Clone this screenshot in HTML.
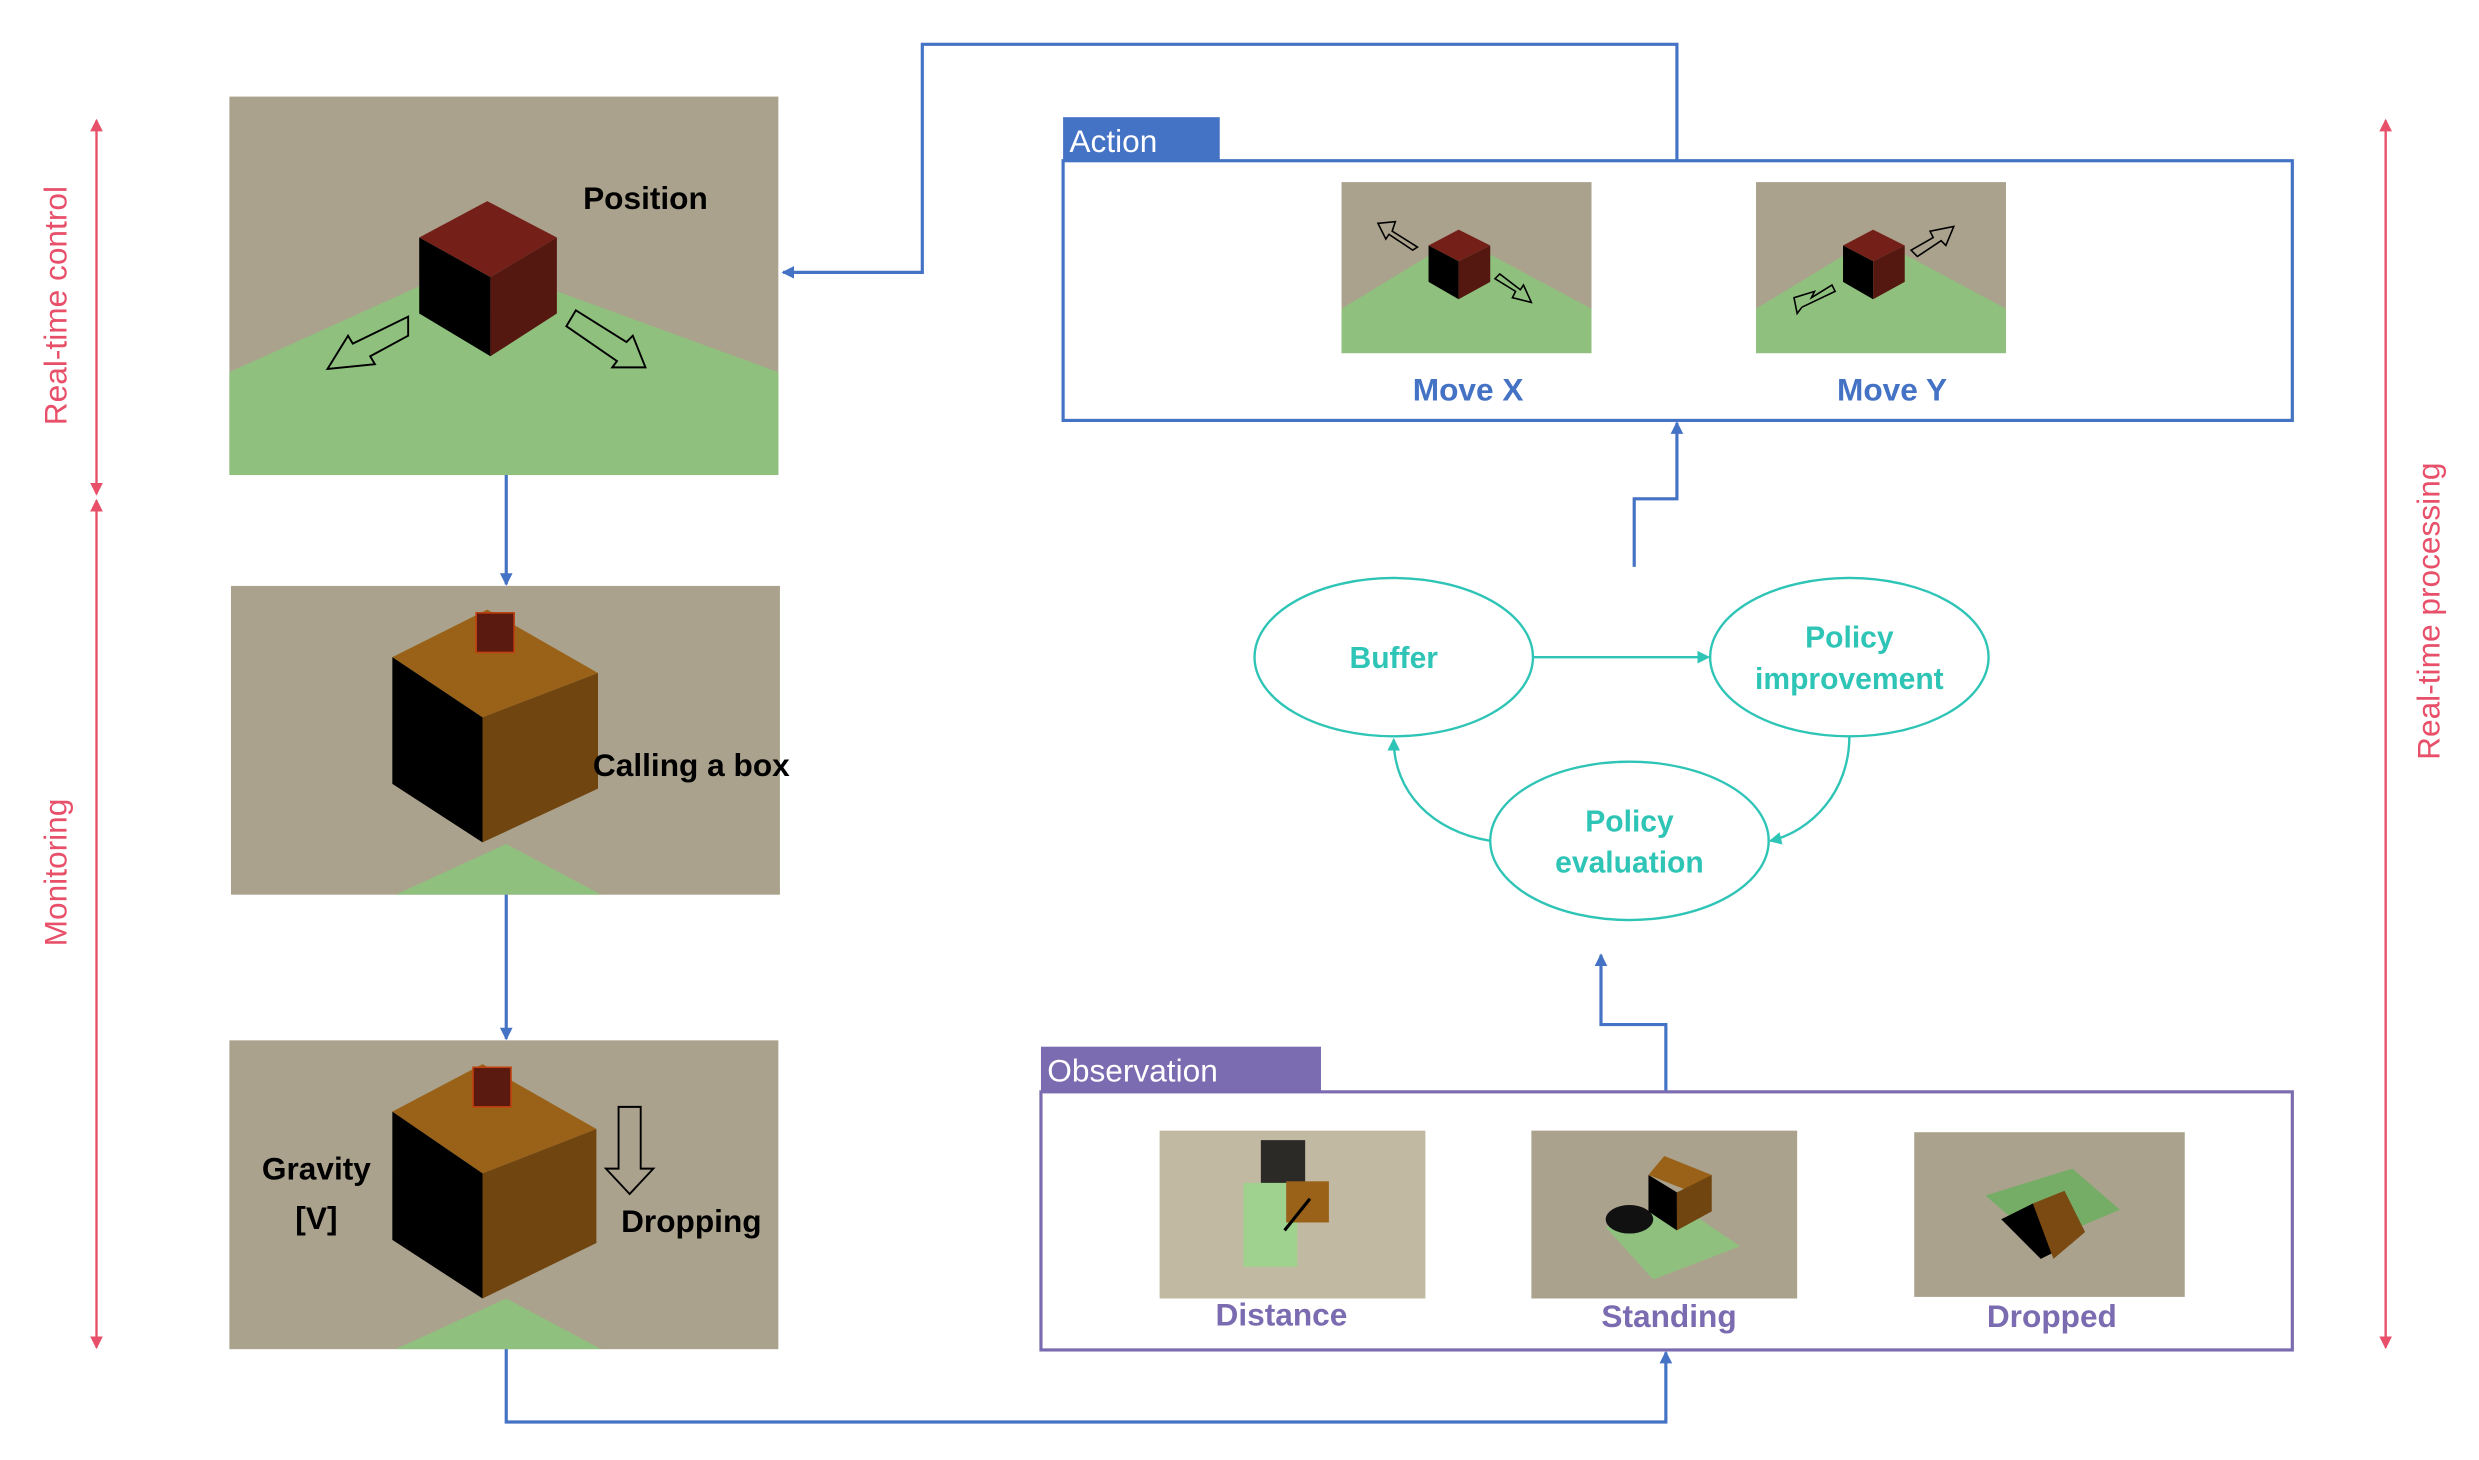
<!DOCTYPE html>
<html><head><meta charset="utf-8"><style>
html,body{margin:0;padding:0;background:#fff;}
svg{display:block;}
text{font-family:"Liberation Sans","DejaVu Sans",sans-serif;}
</style></head><body>
<svg width="2479" height="1460" viewBox="0 0 1567 922" preserveAspectRatio="none" xmlns="http://www.w3.org/2000/svg">
<defs>
<marker id="ab" markerWidth="8" markerHeight="8" refX="7" refY="4" orient="auto" markerUnits="userSpaceOnUse"><path d="M0,0 L8,4 L0,8 Z" fill="#4472c4"/></marker>
<marker id="at" markerWidth="8" markerHeight="8" refX="7" refY="4" orient="auto" markerUnits="userSpaceOnUse"><path d="M0,0 L8,4 L0,8 Z" fill="#2ec4b6"/></marker>
<marker id="ar" markerWidth="8" markerHeight="10" refX="7" refY="5" orient="auto-start-reverse" markerUnits="userSpaceOnUse"><path d="M0,1 L8,5 L0,9 Z" fill="#e8506a"/></marker>
</defs>

<g stroke="#e8506a" stroke-width="1.5" fill="none">
<line x1="61" y1="76" x2="61" y2="312" marker-start="url(#ar)" marker-end="url(#ar)"/>
<line x1="61" y1="316" x2="61" y2="851" marker-start="url(#ar)" marker-end="url(#ar)"/>
<line x1="1508" y1="76" x2="1508" y2="851" marker-start="url(#ar)" marker-end="url(#ar)"/>
</g>
<g fill="#e8506a" font-size="20">
<text transform="translate(42,193) rotate(-90)" text-anchor="middle">Real-time control</text>
<text transform="translate(42,551) rotate(-90)" text-anchor="middle">Monitoring</text>
<text transform="translate(1542,386) rotate(-90)" text-anchor="middle">Real-time processing</text>
</g>

<!-- Panel 1 -->
<rect x="145" y="61" width="347" height="239" fill="#aaa28d"/>
<polygon points="145,235 300,165 492,235 492,300 145,300" fill="#8fc07e"/>
<polygon points="265,150 308,127 352,150 310,175" fill="#742019"/>
<polygon points="265,150 310,175 310,225 265,198" fill="#000"/>
<polygon points="310,175 352,150 352,198 310,225" fill="#551810"/>
<path d="M258,200 L258,212 L234,225 L237,230 L207,233 L220,212 L223,217 Z" fill="none" stroke="#000" stroke-width="1.2"/>
<path d="M364,196 L358,206 L390,228 L387,232 L408,232 L400,212 L396,216 Z" fill="none" stroke="#000" stroke-width="1.2"/>
<text x="408" y="132" font-size="20" font-weight="bold" text-anchor="middle" fill="#000">Position</text>

<!-- Panel 2 -->
<rect x="146" y="370" width="347" height="195" fill="#aaa28d"/>
<polygon points="250,565 320,533 380,565" fill="#8fc07e"/>
<polygon points="248,415 308,385 378,425 305,453" fill="#9a6218"/>
<polygon points="248,415 305,453 305,532 248,495" fill="#000"/>
<polygon points="305,453 378,425 378,498 305,532" fill="#704510"/>
<rect x="301" y="387" width="24" height="25" fill="#5a1a10" stroke="#c04010" stroke-width="1"/>
<text x="437" y="490" font-size="20" font-weight="bold" text-anchor="middle" fill="#000">Calling a box</text>

<!-- Panel 3 -->
<rect x="145" y="657" width="347" height="195" fill="#aaa28d"/>
<polygon points="250,852 320,820 380,852" fill="#8fc07e"/>
<polygon points="248,702 305,672 377,713 305,741" fill="#9a6218"/>
<polygon points="248,702 305,741 305,820 248,783" fill="#000"/>
<polygon points="305,741 377,713 377,785 305,820" fill="#704510"/>
<rect x="299" y="674" width="24" height="25" fill="#5a1a10" stroke="#c04010" stroke-width="1"/>
<path d="M391,699 L405,699 L405,738 L413,738 L398,754 L383,738 L391,738 Z" fill="none" stroke="#000" stroke-width="1.2"/>
<text x="200" y="745" font-size="20" font-weight="bold" text-anchor="middle" fill="#000">Gravity</text>
<text x="200" y="776" font-size="20" font-weight="bold" text-anchor="middle" fill="#000">[V]</text>
<text x="437" y="778" font-size="20" font-weight="bold" text-anchor="middle" fill="#000">Dropping</text>

<g stroke="#4472c4" stroke-width="2" fill="none">
<line x1="320" y1="300" x2="320" y2="369" marker-end="url(#ab)"/>
<line x1="320" y1="565" x2="320" y2="656" marker-end="url(#ab)"/>
<polyline points="320,852 320,898 1053,898 1053,854" marker-end="url(#ab)"/>
<polyline points="1060,101 1060,28 583,28 583,172 495,172" marker-end="url(#ab)"/>
<polyline points="1033,358 1033,315 1060,315 1060,267" marker-end="url(#ab)"/>
<polyline points="1053,689 1053,647 1012,647 1012,603" marker-end="url(#ab)"/>
</g>

<rect x="672" y="101.5" width="777" height="164" fill="none" stroke="#4472c4" stroke-width="2"/>
<rect x="672" y="74" width="99" height="28" fill="#4472c4"/>
<text x="676" y="96" font-size="20" fill="#fff">Action</text>
<rect x="848" y="115" width="158" height="108" fill="#aaa28d"/>
<polygon points="848,195 922,150 1006,195 1006,223 848,223" fill="#8fc07e"/>
<polygon points="903,155 922,145 942,155 922,165" fill="#742019"/>
<polygon points="903,155 922,165 922,189 903,178" fill="#000"/>
<polygon points="922,165 942,155 942,178 922,189" fill="#551810"/>
<path d="M896,156 L880,146 L882,140 L871,141 L876,151 L878,148 L893,158 Z" fill="none" stroke="#000" stroke-width="1"/>
<path d="M945,176 L958,184 L956,188 L968,191 L963,180 L961,183 L948,173 Z" fill="none" stroke="#000" stroke-width="1"/>
<text x="928" y="253" font-size="20" font-weight="bold" text-anchor="middle" fill="#4472c4">Move X</text>
<rect x="1110" y="115" width="158" height="108" fill="#aaa28d"/>
<polygon points="1110,195 1184,150 1268,195 1268,223 1110,223" fill="#8fc07e"/>
<polygon points="1165,155 1184,145 1204,155 1184,165" fill="#742019"/>
<polygon points="1165,155 1184,165 1184,189 1165,178" fill="#000"/>
<polygon points="1184,165 1204,155 1204,178 1184,189" fill="#551810"/>
<path d="M1208,158 L1222,150 L1220,146 L1235,143 L1230,155 L1227,152 L1212,162 Z" fill="none" stroke="#000" stroke-width="1"/>
<path d="M1158,180 L1145,188 L1147,184 L1134,188 L1136,198 L1139,194 L1160,184 Z" fill="none" stroke="#000" stroke-width="1"/>
<text x="1196" y="253" font-size="20" font-weight="bold" text-anchor="middle" fill="#4472c4">Move Y</text>

<g stroke="#2ec4b6" stroke-width="1.5" fill="#fff">
<ellipse cx="881" cy="415" rx="88" ry="50"/>
<ellipse cx="1169" cy="415" rx="88" ry="50"/>
<ellipse cx="1030" cy="531" rx="88" ry="50"/>
</g>
<g stroke="#2ec4b6" stroke-width="1.5" fill="none">
<line x1="969" y1="415" x2="1080" y2="415" marker-end="url(#at)"/>
<path d="M1169,465 C1169,500 1145,525 1119,531" marker-end="url(#at)"/>
<path d="M942,531 C905,525 881,500 881,467" marker-end="url(#at)"/>
</g>
<g fill="#2ec4b6" font-size="19" font-weight="bold" text-anchor="middle">
<text x="881" y="422">Buffer</text>
<text x="1169" y="409">Policy</text>
<text x="1169" y="435">improvement</text>
<text x="1030" y="525">Policy</text>
<text x="1030" y="551">evaluation</text>
</g>

<rect x="658" y="689.5" width="791" height="163" fill="none" stroke="#7b6bb0" stroke-width="2"/>
<rect x="658" y="661" width="177" height="28" fill="#7b6bb0"/>
<text x="662" y="683" font-size="20" fill="#fff">Observation</text>
<rect x="733" y="714" width="168" height="106" fill="#c2b9a3"/>
<rect x="797" y="720" width="28" height="30" fill="#111" opacity="0.85"/>
<rect x="786" y="747" width="34" height="53" fill="#9fd28f"/>
<rect x="813" y="746" width="27" height="26" fill="#9a6218"/>
<line x1="828" y1="757" x2="812" y2="777" stroke="#000" stroke-width="2"/>
<rect x="968" y="714" width="168" height="106" fill="#aaa28d"/>
<polygon points="1015,775 1060,760 1100,787 1045,808" fill="#8fc07e"/>
<ellipse cx="1030" cy="770" rx="15" ry="9" fill="#111"/>
<polygon points="1042,742 1052,730 1082,742 1070,753" fill="#9a6218"/>
<polygon points="1042,742 1060,753 1060,777 1042,765" fill="#000"/>
<polygon points="1060,753 1082,742 1082,765 1060,777" fill="#704510"/>
<rect x="1210" y="715" width="171" height="104" fill="#aaa28d"/>
<polygon points="1255,755 1310,738 1340,764 1290,785" fill="#75ad66"/>
<polygon points="1265,770 1285,760 1310,785 1290,795" fill="#000"/>
<polygon points="1285,760 1305,752 1318,778 1298,795" fill="#7a4a12"/>
<g fill="#7b6bb0" font-size="20" font-weight="bold" text-anchor="middle">
<text x="810" y="837">Distance</text>
<text x="1055" y="838">Standing</text>
<text x="1297" y="838">Dropped</text>
</g>
</svg>
</body></html>
